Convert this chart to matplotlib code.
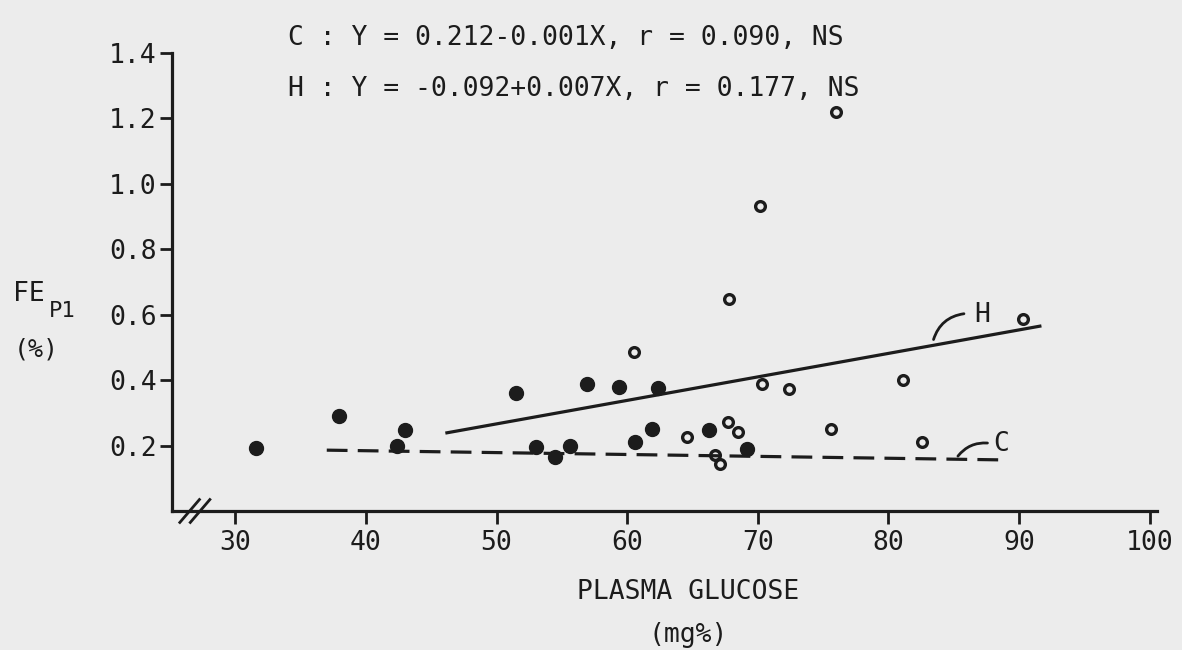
import matplotlib
matplotlib.use("Agg")
import matplotlib.pyplot as plt

# ---------------- data ----------------
# filled dots (C group)
c_x = [31.6, 37.9, 42.4, 43.0, 51.5, 53.0, 54.5, 55.6, 56.9, 59.4,
       60.6, 61.9, 62.4, 66.3, 69.2]
c_y = [0.192, 0.290, 0.200, 0.247, 0.361, 0.196, 0.164, 0.200, 0.387, 0.380,
       0.212, 0.251, 0.376, 0.249, 0.191]
# open circles (H group)
h_x = [60.5, 64.6, 66.7, 67.1, 67.7, 67.8, 68.5, 70.2, 70.3, 72.4,
       75.6, 76.0, 81.1, 82.6, 90.3]
h_y = [0.485, 0.225, 0.171, 0.143, 0.273, 0.649, 0.240, 0.931, 0.387, 0.372,
       0.252, 1.219, 0.400, 0.212, 0.588]
# regression lines as drawn
c_line_x = [37.0, 89.1]
c_line_y = [0.186, 0.156]
h_line_x = [46.2, 91.6]
h_line_y = [0.239, 0.565]

x_ticks = [30, 40, 50, 60, 70, 80, 90, 100]
y_ticks = [0.2, 0.4, 0.6, 0.8, 1.0, 1.2, 1.4]
y_ticklabels = ["0.2", "0.4", "0.6", "0.8", "1.0", "1.2", "1.4"]

eq_c = "C : Y = 0.212-0.001X, r = 0.090, NS"
eq_h = "H : Y = -0.092+0.007X, r = 0.177, NS"

ink = "#1c1c1c"
bg = "#ececec"
mono = "DejaVu Sans Mono"
fs = 19

# ---------------- figure ----------------
fig = plt.figure(figsize=(11.82, 6.5), dpi=100, facecolor=bg)
ax = fig.add_axes([172/1182, 1 - 511/650, 985/1182, 458/650])
ax.set_facecolor(bg)
ax.set_xlim(25.15, 100.57)
ax.set_ylim(0, 1.4)

for s in ["top", "right"]:
    ax.spines[s].set_visible(False)
for s in ["left", "bottom"]:
    ax.spines[s].set_linewidth(2.3)
    ax.spines[s].set_color(ink)

ax.set_xticks(x_ticks)
ax.set_xticklabels([str(v) for v in x_ticks], fontfamily=mono, fontsize=fs, color=ink)
ax.set_yticks(y_ticks)
ax.set_yticklabels(y_ticklabels, fontfamily=mono, fontsize=fs, color=ink)
ax.tick_params(axis="x", direction="out", length=9, width=2, color=ink, pad=5)
ax.tick_params(axis="y", direction="out", length=9, width=2, color=ink, pad=2)

# lines
ax.plot(c_line_x, c_line_y, color=ink, lw=2.3, dashes=(6.5, 3.2))
ax.plot(h_line_x, h_line_y, color=ink, lw=2.3)

# points
ax.plot(c_x, c_y, "o", ms=10, mfc=ink, mec=ink, mew=1, clip_on=False)
ax.plot(h_x, h_y, "o", ms=7, mfc="none", mec=ink, mew=2.4, clip_on=False)

# line labels with curved leaders
ax.annotate("", xy=(83.4, 0.516), xytext=(86.0, 0.604),
            arrowprops=dict(arrowstyle="-", color=ink, lw=2,
                            connectionstyle="arc3,rad=0.35"))
ax.text(86.6, 0.60, "H", fontfamily=mono, fontsize=fs, color=ink,
        ha="left", va="center")
ax.annotate("", xy=(85.2, 0.161), xytext=(87.8, 0.207),
            arrowprops=dict(arrowstyle="-", color=ink, lw=2,
                            connectionstyle="arc3,rad=0.3"))
ax.text(88.0, 0.205, "C", fontfamily=mono, fontsize=fs, color=ink,
        ha="left", va="center")

# equations
ax.text(34.0, 1.447, eq_c, fontfamily=mono, fontsize=fs, color=ink,
        ha="left", va="center", clip_on=False)
ax.text(34.0, 1.291, eq_h, fontfamily=mono, fontsize=fs, color=ink,
        ha="left", va="center", clip_on=False)

# axis break marks on the x axis
brk_x = [26.5, 27.3]
for bx in brk_x:
    ax.plot([bx - 0.75, bx + 0.75], [-0.035, 0.035], color=ink, lw=2,
            clip_on=False)

# axis titles
fig.text(13/1182, 1 - 294/650, "FE", fontfamily=mono, fontsize=fs, color=ink,
         ha="left", va="center")
fig.text(49/1182, 1 - 311/650, "P1", fontfamily=mono, fontsize=16, color=ink,
         ha="left", va="center")
fig.text(14/1182, 1 - 350/650, "(%)", fontfamily=mono, fontsize=fs - 1, color=ink,
         ha="left", va="center")
fig.text(688/1182, 1 - 592/650, "PLASMA GLUCOSE", fontfamily=mono, fontsize=fs,
         color=ink, ha="center", va="center")
fig.text(688/1182, 1 - 635/650, "(mg%)", fontfamily=mono, fontsize=fs,
         color=ink, ha="center", va="center")

fig.savefig("out.png", dpi=100, facecolor=bg)
